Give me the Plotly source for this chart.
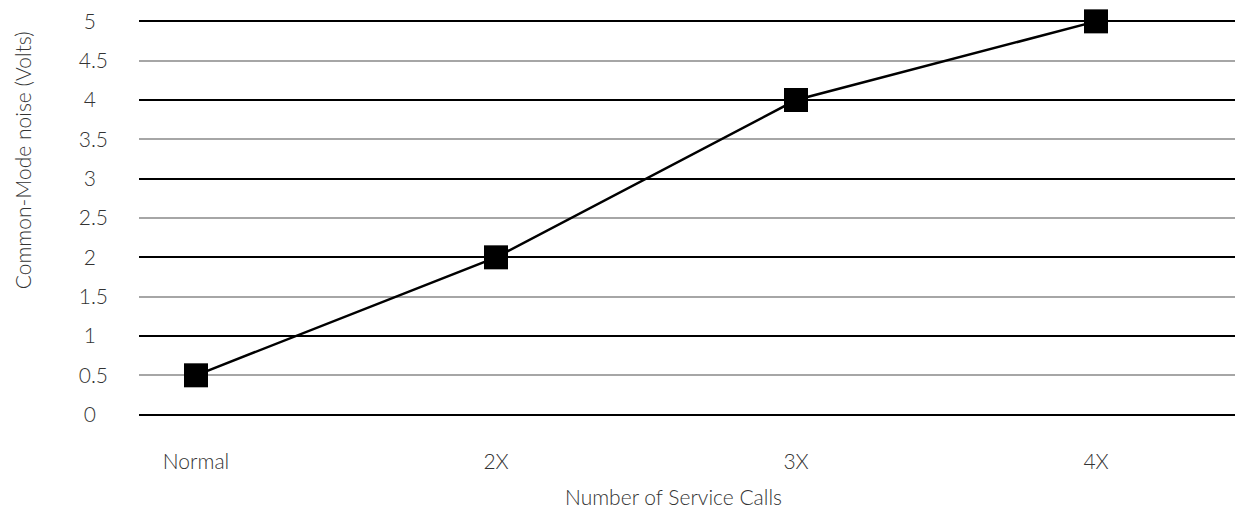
import plotly.graph_objects as go

categories = ["Normal", "2X", "3X", "4X"]
noise_volts = [0.5, 2.0, 4.0, 5.0]
y_ticks = [0, 0.5, 1, 1.5, 2, 2.5, 3, 3.5, 4, 4.5, 5]
y_tick_text = ["0\u2007", "0.5", "1\u2007", "1.5", "2\u2007", "2.5", "3\u2007", "3.5", "4\u2007", "4.5", "5\u2007"]
x_title = "Number of Service Calls"
y_title = "Common-Mode noise (Volts)"

FONT = "Lato"
TXT = "#333333"
FS = 21
PAD = 0.03  # small range padding so edge gridlines are drawn

fig = go.Figure()
# invisible trace on overlay axis to carry the major (black) grid
fig.add_trace(go.Scatter(
    x=categories, y=noise_volts, mode="markers", yaxis="y2",
    marker=dict(opacity=0), hoverinfo="skip", showlegend=False,
))
fig.add_trace(go.Scatter(
    x=categories, y=noise_volts, mode="lines+markers",
    line=dict(color="black", width=2.5),
    marker=dict(symbol="square", size=24, color="black"),
    cliponaxis=False, showlegend=False,
))

fig.update_layout(
    width=1235, height=500,
    margin=dict(l=131, r=0, t=10.6, b=90.6, autoexpand=False),
    paper_bgcolor="white", plot_bgcolor="white",
    font=dict(family=FONT, size=FS, color=TXT, weight=300),
    xaxis=dict(
        type="category", range=[-0.19, 3.49], automargin=False,
        showgrid=False, zeroline=False, showline=False,
        ticks="", ticklabelstandoff=30, ticklabeloverflow="allow",
    ),
    yaxis=dict(
        range=[-PAD, 5 + PAD], automargin=False,
        tickvals=y_ticks, ticktext=y_tick_text, ticklabeloverflow="allow",
        showgrid=True, gridcolor="#a6a6a6", gridwidth=2,
        zeroline=False, showline=False, ticks="", ticklabelstandoff=30,
    ),
    yaxis2=dict(
        overlaying="y", range=[-PAD, 5 + PAD], dtick=1, tick0=0, automargin=False,
        showgrid=True, gridcolor="black", gridwidth=2,
        zeroline=False, showline=False, ticks="", showticklabels=False,
    ),
    annotations=[
        dict(text=x_title, xref="paper", yref="paper", x=0.4837, y=-0.2,
             xanchor="center", yanchor="middle", showarrow=False,
             font=dict(family=FONT, size=FS, color=TXT, weight=300)),
        dict(text=y_title, xref="paper", yref="paper", x=-0.106, y=0.645,
             xanchor="center", yanchor="middle", textangle=-90, showarrow=False,
             font=dict(family=FONT, size=FS, color=TXT, weight=300)),
    ],
)

fig.write_html("out.html")
